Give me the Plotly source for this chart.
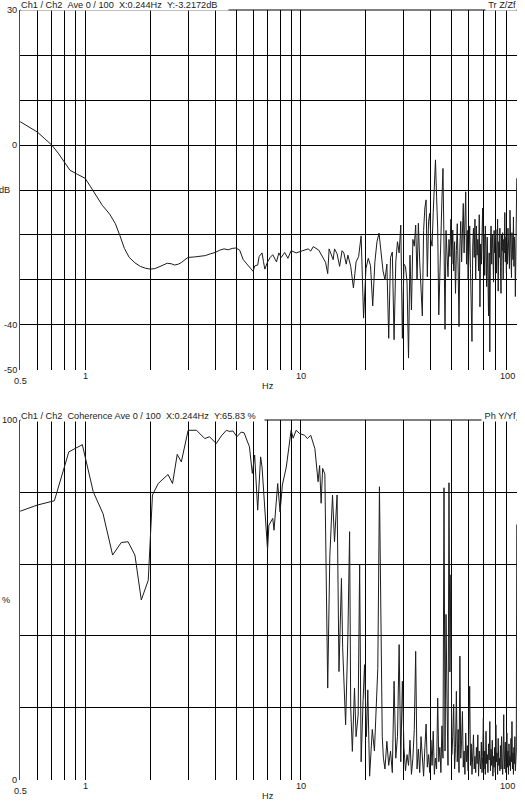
import math
import plotly.graph_objects as go

# ---------------- data ----------------
# Top panel: transfer function magnitude (dB)
mag_freq_lo = [0.5, 0.55, 0.6, 0.65, 0.7, 0.75, 0.8, 0.85, 0.92, 1.0, 1.06, 1.12, 1.2, 1.3, 1.38,
               1.45, 1.52, 1.6, 1.7, 1.8, 1.9, 2.0, 2.1, 2.2, 2.3, 2.4, 2.5, 2.6, 2.7, 2.8, 2.9,
               3.0, 3.2, 3.4, 3.6, 3.8, 4.0, 4.2, 4.4, 4.6, 4.8, 5.0, 5.2, 5.4, 5.6, 5.8, 6.0,
               6.1, 6.3, 6.4, 6.6, 6.7, 6.8, 7.0, 7.2, 7.4, 7.7, 7.9, 8.1, 8.4, 8.7, 9.0, 9.5,
               10.2, 10.8, 11.1, 11.4, 12.1, 12.6, 13.0, 13.3, 13.5, 14.1, 14.3, 14.7, 15.1,
               15.5, 15.8, 16.2]
mag_db_lo = [5.2, 4.0, 2.9, 1.4, 0.0, -1.8, -3.7, -5.6, -6.5, -7.4, -9.3, -11.2, -13.4, -15.4, -17.5,
             -20.2, -23.0, -25.0, -26.2, -27.0, -27.4, -27.6, -27.5, -27.1, -26.6, -26.3, -26.4, -26.7,
             -26.5, -26.1, -25.5, -25.0, -24.9, -24.7, -24.6, -24.2, -23.9, -23.4, -23.1, -23.3, -23.0,
             -22.9, -23.4, -25.5, -26.4, -27.2, -28.1, -26.9, -26.7, -24.8, -24.0, -25.9, -27.6, -26.0,
             -25.0, -24.4, -26.0, -24.0, -25.0, -23.9, -25.2, -23.5, -24.0, -23.5, -23.1, -23.6, -22.6,
             -23.4, -24.8, -26.1, -28.6, -23.1, -25.5, -23.1, -24.2, -27.0, -23.5, -24.0, -26.5]
# dense part, 0.5 Hz bins from 16.5 Hz to 100 Hz
MAG_HI_START = 16.5
MAG_HI_STEP = 0.5
mag_db_hi = [
    -24.5, -27.0, -31.8, -26.0, -24.8, -20.2, -38.5, -27.5, -25.2, -26.8,
    -35.8, -26.0, -21.5, -19.6, -24.5, -28.0, -30.0, -26.5, -43.0, -25.0,
    -23.8, -43.3, -26.0, -21.5, -24.0, -17.8, -43.0, -26.5, -27.0, -30.5,
    -47.4, -24.5, -36.7, -21.0, -22.5, -17.8, -30.0, -17.4, -26.0, -33.0,
    -38.0, -19.0, -14.0, -12.2, -29.3, -17.0, -15.2, -21.0, -22.5, -15.0,
    -10.0, -3.3, -11.5, -18.5, -37.8, -26.0, -20.5, -12.0, -5.2, -22.0,
    -41.0, -19.0, -25.5, -29.3, -21.0, -24.8, -16.5, -26.5, -18.9, -28.0,
    -21.5, -33.0, -23.5, -17.5, -28.0, -40.4, -22.5, -17.0, -26.0, -17.4,
    -13.0, -24.0, -19.0, -10.4, -26.5, -19.0, -30.0, -21.5, -18.0, -27.5,
    -34.0, -43.7, -22.5, -18.5, -25.0, -16.5, -30.0, -18.0, -24.5, -21.0,
    -28.0, -15.5, -36.0, -22.0, -26.5, -19.5, -14.0, -25.5, -20.0, -29.0,
    -18.0, -23.0, -31.5, -20.5, -27.5, -38.0, -24.0, -46.0, -22.0, -18.0,
    -26.5, -20.0, -23.0, -30.5, -19.0, -24.0, -21.0, -18.8, -28.5, -22.0,
    -16.5, -32.5, -21.5, -25.0, -18.5, -27.0, -33.0, -20.0, -23.5, -19.5,
    -30.0, -21.0, -24.0, -15.0, -26.0, -20.5, -28.5, -22.0, -26.5, -18.5,
    -23.0, -21.0, -27.5, -14.5, -24.5, -20.0, -29.5, -19.5, -22.5, -25.5,
    -16.0, -27.0, -20.5, -23.5, -33.7, -21.0, -25.0, -7.4]

# Bottom panel: coherence (%)
coh_freq_lo = [0.5, 0.6, 0.72, 0.84, 0.97, 1.09, 1.21, 1.34, 1.47, 1.58, 1.70, 1.82, 1.96, 2.05,
               2.18, 2.42, 2.54, 2.67, 2.79, 3.0, 3.28, 3.58, 3.77, 4.05, 4.27, 4.51, 4.65, 4.84,
               5.05, 5.28, 5.45, 5.77, 5.95, 6.1, 6.3, 6.5, 6.6, 7.0, 7.1, 7.4, 7.5, 7.8, 8.0,
               8.2, 8.55, 8.9, 9.0, 9.2, 9.5, 9.85, 10.4, 10.7, 11.1, 11.6, 12.0, 12.2, 12.4,
               12.6, 12.9, 13.3, 13.6, 14.0, 14.3, 14.7, 15.0, 15.4, 15.6, 16.1, 16.5, 16.8,
               17.0, 17.3, 17.7, 18.0, 18.4, 18.7, 19.0, 19.4, 19.7, 20.1, 20.4, 20.8, 21.4,
               21.9, 22.3, 22.7, 23.1, 23.5, 23.8, 24.1]
coh_pct_lo = [74.7, 76.4, 77.6, 91.2, 93.2, 80.1, 74.0, 62.5, 66.0, 66.2, 62.5, 50.0, 55.5, 79.2,
              82.4, 84.9, 82.4, 90.5, 88.4, 97.2, 97.2, 94.9, 95.4, 93.5, 95.6, 97.2, 96.9, 97.0,
              95.4, 96.7, 96.5, 92.6, 85.2, 90.3, 75.0, 89.8, 87.0, 63.9, 70.8, 72.7, 69.4, 82.4,
              74.5, 82.0, 87.0, 94.0, 97.2, 95.0, 97.2, 96.3, 95.8, 94.9, 95.8, 92.1, 82.9, 87.4,
              76.9, 86.6, 85.0, 25.5, 62.0, 79.2, 66.2, 79.2, 30.1, 56.0, 36.7, 15.3, 40.3, 69.0,
              20.0, 7.9, 25.5, 12.0, 18.0, 59.7, 5.0, 22.0, 32.0, 12.0, 25.0, 1.0, 14.0,
              8.0, 18.0, 31.0, 81.5, 41.0, 12.0, 6.0]
# dense part, 0.5 Hz bins from 24.5 Hz to 100 Hz
COH_HI_START = 24.5
COH_HI_STEP = 0.5
coh_pct_hi = [
    3.0, 10.7, 4.0, 8.0, 2.0, 27.4, 6.0, 12.0, 37.6, 5.0,
    27.4, 9.0, 2.5, 7.0, 4.0, 11.0, 1.5, 6.0, 14.0, 35.7,
    3.0, 8.5, 2.0, 12.0, 5.0, 1.0, 9.0, 15.5, 3.5, 7.0,
    2.0, 11.0, 4.0, 13.5, 1.5, 6.0, 3.0, 22.7, 5.0, 9.0,
    2.0, 15.0, 6.0, 81.2, 8.0, 46.0, 22.0, 4.0, 82.6, 30.0,
    57.0, 7.0, 12.0, 21.0, 3.0, 9.0, 24.6, 5.0, 14.0, 2.0,
    34.4, 6.0, 11.0, 19.0, 3.5, 8.0, 1.5, 13.0, 5.0, 9.5,
    2.5, 15.0, 26.0, 4.0, 10.0, 1.5, 7.0, 12.5, 3.0, 6.5,
    2.0, 9.0, 4.5, 12.5, 1.0, 8.0, 5.0, 3.0, 10.5, 2.0,
    6.5, 17.2, 3.0, 8.0, 1.5, 13.5, 4.5, 7.0, 2.0, 10.0,
    5.5, 16.2, 2.5, 8.5, 4.0, 11.0, 1.0, 6.5, 3.5, 9.0,
    2.0, 15.3, 5.0, 7.5, 1.5, 11.5, 4.0, 6.0, 2.5, 9.5,
    3.0, 12.0, 5.5, 1.5, 8.0, 18.1, 3.0, 7.0, 10.5, 2.0,
    5.5, 13.0, 3.5, 8.0, 1.5, 10.0, 4.0, 6.5, 2.5, 11.5,
    5.0, 16.2, 3.0, 7.5, 1.5, 9.0, 4.5, 12.0, 2.5, 6.0,
    8.0, 71.0]

GRID_X = [0.5, 0.6, 0.7, 0.8, 0.9, 1, 2, 3, 4, 5, 6, 7, 8, 9, 10,
          20, 30, 40, 50, 60, 70, 80, 90, 100]
X_LABELS = ["0.5", "1", "10", "100"]
MAG_TICKS = [-50, -40, -30, -20, -10, 0, 10, 20, 30]
MAG_LABELS = {30: "30", 0: "0", -10: "dB", -40: "-40", -50: "-50"}
COH_TICKS = [0, 20, 40, 60, 80, 100]
COH_LABELS = {100: "100", 50: "%", 0: "0"}

TOP_TITLE = "Ch1 / Ch2\u00a0\u00a0Ave 0 / 100\u00a0\u00a0X:0.244Hz\u00a0\u00a0Y:-3.2172dB"
TOP_RIGHT = "Tr Z/Zf"
BOT_TITLE = "Ch1 / Ch2\u00a0\u00a0Coherence Ave 0 / 100\u00a0\u00a0X:0.244Hz\u00a0\u00a0Y:65.83 %"
BOT_RIGHT = "Ph Y/Yf"

# ---------------- build ----------------
mag_f = mag_freq_lo + [MAG_HI_START + i * MAG_HI_STEP for i in range(len(mag_db_hi))]
mag_v = mag_db_lo + mag_db_hi
coh_f = coh_freq_lo + [COH_HI_START + i * COH_HI_STEP for i in range(len(coh_pct_hi))]
coh_v = coh_pct_lo + coh_pct_hi

W, H = 525, 803
ML, MR, MT, MB = 20, 8, 10, 23
PH = H - MT - MB  # 770


def py(ypx):
    return (H - MB - ypx) / PH


FONT = "Liberation Sans, Arial, sans-serif"
FS = 9.2
TXT = "#222222"
LINE = "#1c1c1c"

fig = go.Figure()
fig.add_trace(go.Scatter(x=mag_f, y=mag_v, mode="lines", xaxis="x", yaxis="y",
                         line=dict(color=LINE, width=1), hoverinfo="skip", showlegend=False))
fig.add_trace(go.Scatter(x=coh_f, y=coh_v, mode="lines", xaxis="x2", yaxis="y2",
                         line=dict(color=LINE, width=1), hoverinfo="skip", showlegend=False))

xr = [math.log10(0.5) - 0.001, 2.001]
xcommon = dict(type="log", range=xr, tickmode="array", tickvals=GRID_X, showticklabels=False,
               ticks="", showgrid=True, gridcolor="black", gridwidth=1, showline=False,
               zeroline=False, fixedrange=True)

top_dom = [py(370), py(10)]
bot_dom = [py(780), py(420)]

fig.update_layout(
    width=W, height=H,
    margin=dict(l=ML, r=MR, t=MT, b=MB, pad=0),
    paper_bgcolor="white", plot_bgcolor="white",
    showlegend=False,
    xaxis=dict(anchor="y", domain=[0, 1], **xcommon),
    xaxis2=dict(anchor="y2", domain=[0, 1], **xcommon),
    yaxis=dict(anchor="x", domain=top_dom, range=[-50.05, 30.05], tickmode="array",
               tickvals=MAG_TICKS, showticklabels=False, ticks="", showgrid=True,
               gridcolor="black", gridwidth=1, zeroline=False, showline=True,
               linecolor="#d01010", linewidth=1, fixedrange=True),
    yaxis2=dict(anchor="x2", domain=bot_dom, range=[-0.06, 100.06], tickmode="array",
                tickvals=COH_TICKS, showticklabels=False, ticks="", showgrid=True,
                gridcolor="black", gridwidth=1, zeroline=False, showline=True,
                linecolor="#d01010", linewidth=1, fixedrange=True),
)

# top frame lines of each panel (partly hidden by the header texts)
shapes = []
for base in (10, 420):
    shapes.append(dict(type="line", xref="paper", yref="paper", x0=0, x1=1,
                       y0=py(base), y1=py(base), line=dict(color="black", width=1), layer="above"))

ann = []
f = dict(family=FONT, size=FS, color=TXT)

# y labels
for v, t in MAG_LABELS.items():
    ann.append(dict(text=t, xref="paper", x=0, xanchor="right", xshift=(-8 if t == "dB" else -1),
                    yref="y", y=v, yanchor="middle", showarrow=False, font=f))
for v, t in COH_LABELS.items():
    ann.append(dict(text=t, xref="paper", x=0, xanchor="right", xshift=(-8 if t == "%" else -1),
                    yref="y2", y=v, yanchor="middle", showarrow=False, font=f))

# x labels for both panels
for xref, base in (("x", 370), ("x2", 780)):
    for lab in X_LABELS:
        val = float(lab)
        if lab == "0.5":
            ann.append(dict(text=lab, xref=xref, x=math.log10(val), xanchor="center",
                            yref="paper", y=py(base + 11), yanchor="middle", showarrow=False, font=f))
        elif lab == "100":
            ann.append(dict(text=lab, xref=xref, x=math.log10(val), xanchor="right",
                            yref="paper", y=py(base + 6), yanchor="middle", showarrow=False, font=f))
        else:
            ann.append(dict(text=lab, xref=xref, x=math.log10(val), xanchor="center",
                            yref="paper", y=py(base + 6), yanchor="middle", showarrow=False, font=f))
    ann.append(dict(text="Hz", xref="paper", x=(268 - ML) / (W - ML - MR), xanchor="center",
                    yref="paper", y=py(base + 16), yanchor="middle", showarrow=False, font=f))

# titles covering the top border
for base, title, right, wl, wr in ((10, TOP_TITLE, TOP_RIGHT, 207, 30),
                                   (420, BOT_TITLE, BOT_RIGHT, 243, 34)):
    ann.append(dict(text=title, xref="paper", x=0, xanchor="left", yref="paper", y=py(base + 1.5),
                    yanchor="bottom", showarrow=False, font=f, bgcolor="white", borderpad=0,
                    width=wl, align="left"))
    ann.append(dict(text=right, xref="paper", x=1, xanchor="right", yref="paper", y=py(base + 1.5),
                    yanchor="bottom", showarrow=False, font=f, bgcolor="white", borderpad=0,
                    width=wr, align="right"))

fig.update_layout(annotations=ann, shapes=shapes)
fig.write_html("out.html")
